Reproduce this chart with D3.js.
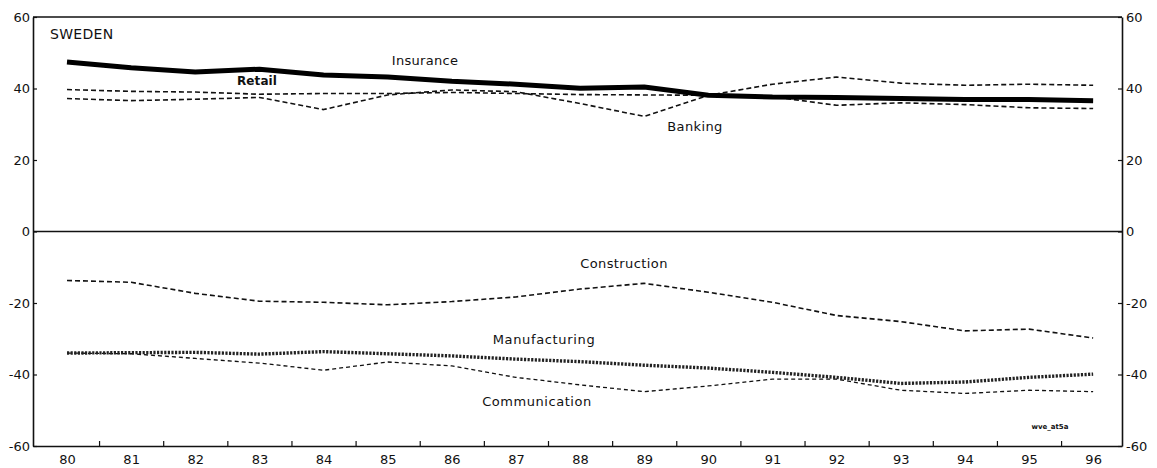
<!DOCTYPE html>
<html><head><meta charset="utf-8">
<script src="https://cdn.jsdelivr.net/npm/d3@7"></script>
<style>body{margin:0;background:#fff}svg{display:block}</style>
</head><body><svg id="c" width="1157" height="468"></svg>
<script>
const years = [80,81,82,83,84,85,86,87,88,89,90,91,92,93,94,95,96];
const yearLabels = ["80","81","82","83","84","85","86","87","88","89","90","91","92","93","94","95","96"];
const yTicks = [-60,-40,-20,0,20,40,60];
const yTickLabels = ["-60","-40","-20","0","20","40","60"];
const retail = [47.4,45.8,44.6,45.4,43.8,43.2,42.0,41.2,40.1,40.4,38.1,37.6,37.5,37.2,36.9,36.9,36.6];
const insurance = [39.7,39.2,39.0,38.4,38.6,38.6,38.9,38.6,38.3,38.2,38.1,41.2,43.2,41.5,40.9,41.2,40.9];
const banking = [37.2,36.6,37.0,37.5,34.1,38.2,39.6,39.1,35.8,32.2,38.1,37.7,35.3,36.0,35.5,34.6,34.4];
const construction = [-13.7,-14.2,-17.3,-19.5,-19.8,-20.5,-19.6,-18.3,-16.1,-14.5,-17.0,-19.8,-23.5,-25.2,-27.8,-27.3,-29.8];
const manufacturing = [-34.0,-33.9,-33.8,-34.3,-33.6,-34.2,-34.8,-35.7,-36.4,-37.4,-38.2,-39.4,-40.8,-42.5,-42.1,-40.8,-39.9];
const communication = [-34.0,-34.2,-35.5,-36.8,-38.8,-36.5,-37.6,-40.8,-42.9,-44.8,-43.2,-41.3,-41.3,-44.4,-45.3,-44.4,-44.8];
const seriesNames = ["Retail","Insurance","Banking","Construction","Manufacturing","Communication"];

const svg = d3.select("#c");
const font = "DejaVu Sans, sans-serif";
const x = d3.scaleLinear().domain([79.47, 96.45]).range([33, 1122]);
const y = d3.scaleLinear().domain([-60, 60]).range([446, 17]);

// frame + zero line
svg.append("line").attr("x1", x.range()[0]).attr("x2", x.range()[1]).attr("y1", y(60)).attr("y2", y(60))
  .attr("stroke", "#111").attr("stroke-width", 1.4);
svg.append("line").attr("x1", x.range()[0]).attr("x2", x.range()[1]).attr("y1", y(0)).attr("y2", y(0))
  .attr("stroke", "#111").attr("stroke-width", 1.4);

const axL = svg.append("g").attr("transform", `translate(${x.range()[0]},0)`)
  .call(d3.axisLeft(y).tickValues(yTicks).tickFormat((d,i)=>yTickLabels[i]).tickSizeInner(-4).tickSizeOuter(0).tickPadding(3));
const axR = svg.append("g").attr("transform", `translate(${x.range()[1]},0)`)
  .call(d3.axisRight(y).tickValues(yTicks).tickFormat((d,i)=>yTickLabels[i]).tickSizeInner(-4).tickSizeOuter(0).tickPadding(4));
const midTicks = years.slice(0, -1).map(v => v + 0.5);
const axB = svg.append("g").attr("transform", `translate(0,${y(-60)})`)
  .call(d3.axisBottom(x).tickValues(midTicks).tickFormat("").tickSizeInner(-5).tickSizeOuter(0));
const axBL = svg.append("g").attr("transform", `translate(0,${y(-60)})`)
  .call(d3.axisBottom(x).tickValues(years).tickFormat((d,i)=>yearLabels[i]).tickSize(0).tickPadding(9));
axBL.select(".domain").remove();
[axL, axR, axB, axBL].forEach(g => {
  g.selectAll(".domain").attr("stroke", "#111").attr("stroke-width", 1.6);
  g.selectAll(".tick line").attr("stroke", "#111").attr("stroke-width", 1.2);
  g.selectAll("text").attr("font-family", font).attr("font-size", 13).attr("fill", "#111");
});

const line = d3.line().x((d,i) => x(years[i])).y(d => y(d));
const styles = {
  Retail: {data: retail, w: 5, dash: null, color: "#000"},
  Insurance: {data: insurance, w: 1.6, dash: "5,3", color: "#111"},
  Banking: {data: banking, w: 1.6, dash: "5,3", color: "#111"},
  Construction: {data: construction, w: 1.6, dash: "5,3", color: "#111"},
  Manufacturing: {data: manufacturing, w: 3.4, dash: "2.2,1.4", color: "#222"},
  Communication: {data: communication, w: 1.3, dash: "4,3", color: "#111"}
};
seriesNames.slice().reverse().forEach(n => {
  const s = styles[n];
  const p = svg.append("path").datum(s.data).attr("d", line).attr("fill", "none")
    .attr("stroke", s.color).attr("stroke-width", s.w).attr("stroke-linejoin", "round");
  if (s.dash) p.attr("stroke-dasharray", s.dash);
});

// labels
const labels = [
  {t: "SWEDEN", x: 50, y: 39, size: 14, anchor: "start", ls: 0.3},
  {t: "Insurance", x: 425, y: 65, size: 13, anchor: "middle", ls: 0.3},
  {t: "Retail", x: 257, y: 85, size: 12, anchor: "middle", ls: 0.1, weight: "bold"},
  {t: "Banking", x: 695, y: 131, size: 13, anchor: "middle", ls: 0.4},
  {t: "Construction", x: 624, y: 268, size: 13, anchor: "middle", ls: 0.4},
  {t: "Manufacturing", x: 544, y: 344, size: 13, anchor: "middle", ls: 0.65},
  {t: "Communication", x: 537, y: 406, size: 13, anchor: "middle", ls: 0.55},
  {t: "wve_at5a", x: 1050, y: 429, size: 7, anchor: "middle", ls: 0, weight: "bold"}
];
svg.selectAll("text.lbl").data(labels).join("text").attr("class", "lbl")
  .attr("x", d => d.x).attr("y", d => d.y).attr("text-anchor", d => d.anchor)
  .attr("font-family", font).attr("font-size", d => d.size).attr("letter-spacing", d => d.ls)
  .attr("font-weight", d => d.weight || "normal").attr("fill", "#111").text(d => d.t);
</script></body></html>
